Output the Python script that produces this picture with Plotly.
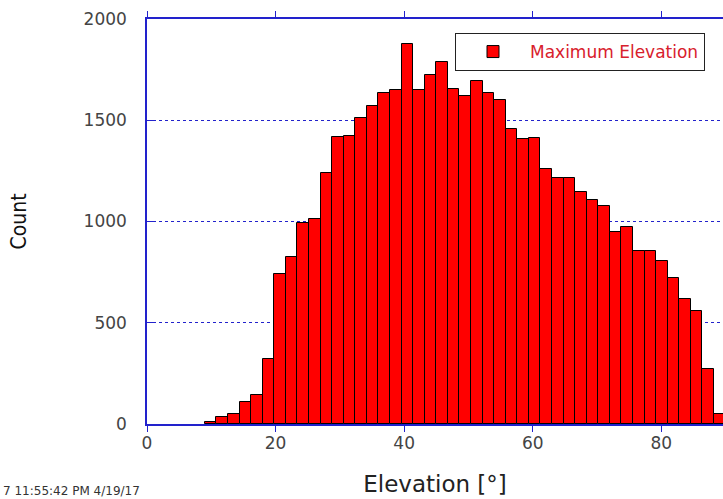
import plotly.graph_objects as go

# ── Data: histogram of maximum elevation, bins of 1.8 deg starting at 9.0 ──
bin_start = 9.0
bin_width = 1.8
counts = [
    10, 33, 48, 110, 143, 321, 739, 826, 994, 1011,
    1238, 1419, 1422, 1509, 1570, 1633, 1649, 1877, 1649, 1722,
    1788, 1656, 1621, 1694, 1633, 1600, 1455, 1406, 1411, 1259,
    1216, 1216, 1144, 1105, 1077, 950, 971, 854, 854, 805,
    719, 617, 560, 272, 48,
]
y_ticks = [0, 500, 1000, 1500, 2000]
x_ticks = [0, 20, 40, 60, 80]
series_name = "Maximum Elevation"
timestamp = "7 11:55:42 PM 4/19/17"

AXIS_BLUE = "#2222cc"
FONT = "DejaVu Sans"

fig = go.Figure()
fig.add_trace(go.Bar(
    y=counts,
    x0=bin_start + bin_width / 2,
    dx=bin_width,
    width=bin_width,
    name=series_name,
    marker=dict(color="#ff0000", line=dict(color="#000000", width=1)),
    showlegend=True,
))

fig.update_layout(
    width=723, height=499,
    margin=dict(l=147, r=0, t=19, b=75),
    paper_bgcolor="white", plot_bgcolor="white",
    bargap=0,
    font=dict(family=FONT, color="#444444"),
    legend=dict(
        x=(455 - 147) / 576, y=1 - (33 - 19) / 405,
        xanchor="left", yanchor="top",
        bgcolor="white", bordercolor="#222222", borderwidth=1,
        font=dict(family=FONT, size=17, color="#d8202c"),
        itemwidth=64,
    ),
    xaxis=dict(
        range=[0, 89.6],
        tickvals=x_ticks,
        ticks="outside", ticklen=6, tickcolor=AXIS_BLUE,
        showline=True, linecolor=AXIS_BLUE, linewidth=1.5,
        mirror="ticks", showgrid=False, zeroline=False,
        tickfont=dict(size=17, color="#444444"),
        ticklabelstandoff=-3,
        title=dict(text="Elevation [°]", font=dict(size=23, color="#222222"), standoff=24),
    ),
    yaxis=dict(
        range=[0, 2000],
        tickvals=y_ticks,
        ticks="inside", ticklen=7, tickcolor=AXIS_BLUE,
        showline=True, linecolor=AXIS_BLUE, linewidth=1.5,
        showgrid=True, gridcolor=AXIS_BLUE, griddash="dot", gridwidth=1,
        zeroline=False,
        tickfont=dict(size=17, color="#444444"),
        ticklabelstandoff=15,
        title=dict(text="Count", font=dict(family="Liberation Sans Narrow, DejaVu Sans Condensed, sans-serif",
                                           size=21, color="#111111"), standoff=51),
    ),
)

fig.add_annotation(
    text=timestamp, xref="paper", yref="paper",
    x=(1 - 147) / 576, y=-(491 - 424) / 405,
    xanchor="left", yanchor="middle", showarrow=False,
    font=dict(family=FONT, size=12, color="#333333"),
)

# page body has an 8px default margin; drop it so the figure sits at 0,0
fig.write_html("out.html", config={"displayModeBar": False},
               post_script="document.body.style.margin='0';")
